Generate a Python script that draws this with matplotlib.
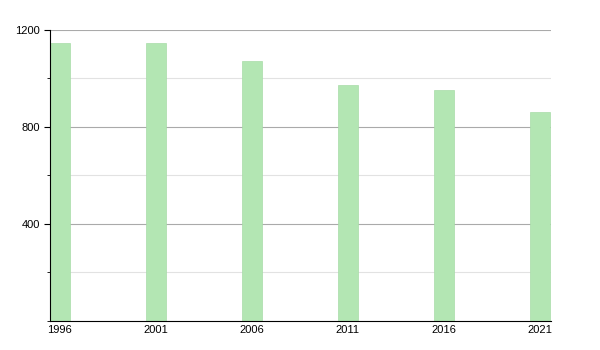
import matplotlib
matplotlib.use("Agg")
import matplotlib.pyplot as plt
from matplotlib.ticker import MultipleLocator

# data
years = [1996, 2001, 2006, 2011, 2016, 2021]
values = [1145, 1145, 1074, 971, 954, 863]

plt.rcParams['font.family'] = ['Liberation Sans', 'DejaVu Sans']

fig = plt.figure(figsize=(6, 3.5), dpi=100)
ax = fig.add_axes([50 / 600, 29.5 / 350, 501 / 600, 290.5 / 350])

ax.bar(years, values, width=1.05, align='edge', color='#b3e6b3',
       edgecolor='#a8dca8', linewidth=0.5, zorder=2)

ax.set_xlim(1996, 2022.1)
ax.set_ylim(0, 1200)
ax.set_xticks([y + 0.5 for y in years])
ax.set_xticklabels([str(y) for y in years])
ax.yaxis.set_major_locator(MultipleLocator(400))
ax.yaxis.set_minor_locator(MultipleLocator(200))
ax.set_yticks([400, 800, 1200])

ax.grid(axis='y', which='major', color='#aaaaaa', linewidth=0.8, zorder=0)
ax.grid(axis='y', which='minor', color='#e2e2e2', linewidth=0.8, zorder=0)
ax.set_axisbelow(True)

for s in ['top', 'right']:
    ax.spines[s].set_visible(False)
ax.spines['left'].set_color('black')
ax.spines['bottom'].set_color('black')

ax.tick_params(axis='x', length=0, labelsize=8, pad=3)
ax.tick_params(axis='y', which='major', length=4, labelsize=8, pad=3)
ax.tick_params(axis='y', which='minor', length=2)

fig.savefig('out.png', dpi=100)
